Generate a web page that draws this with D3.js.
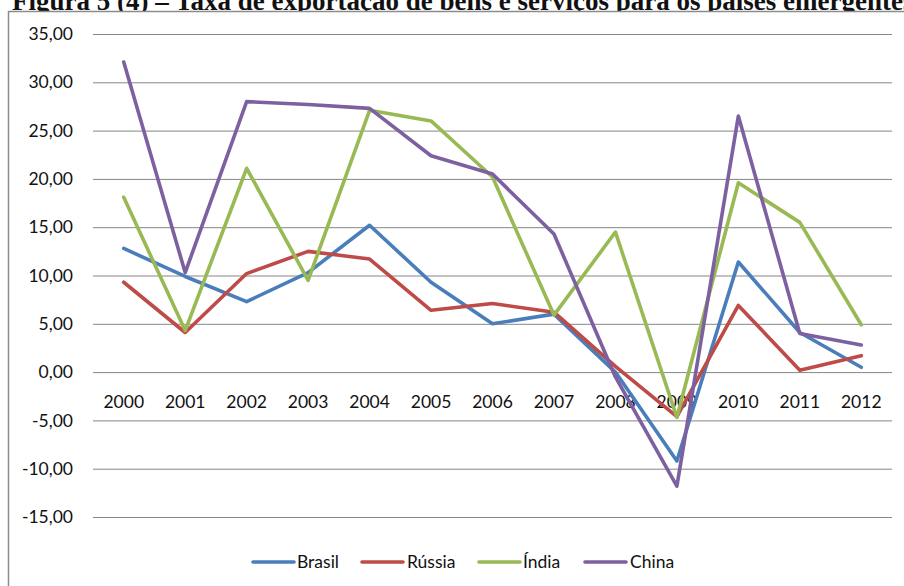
<!DOCTYPE html>
<html>
<head>
<meta charset="utf-8">
<script src="https://cdn.jsdelivr.net/npm/d3@7"></script>
<style>
  html, body { margin: 0; padding: 0; background: #fff; }
  svg { display: block; }
</style>
</head>
<body>
<svg id="chart" width="904" height="586"></svg>
<script>
// Taxa de exportação de bens e serviços (% a.a.), 2000–2012
const years = ["2000","2001","2002","2003","2004","2005","2006","2007","2008","2009","2010","2011","2012"];
const brasil = [12.8, 9.9, 7.3, 10.3, 15.2, 9.3, 5.0, 6.0, 0.0, -9.2, 11.4, 4.1, 0.5];
const russia = [9.3, 4.1, 10.2, 12.5, 11.7, 6.4, 7.1, 6.2, 0.6, -4.6, 6.9, 0.2, 1.7];
const india  = [18.1, 4.3, 21.1, 9.5, 27.1, 26.0, 20.2, 5.9, 14.5, -4.7, 19.6, 15.5, 4.9];
const china  = [32.1, 10.3, 28.0, 27.7, 27.3, 22.4, 20.5, 14.3, -0.5, -11.8, 26.5, 4.0, 2.8];
const yTicks = [-15, -10, -5, 0, 5, 10, 15, 20, 25, 30, 35];
const seriesNames = ["Brasil", "Rússia", "Índia", "China"];
const seriesColors = ["#4a7ebb", "#be4b48", "#98b954", "#7d60a0"];
const titleText = "Figura 5 (4) – Taxa de exportação de bens e serviços para os países emergentes";

const series = [brasil, russia, india, china].map((values, i) => ({
  name: seriesNames[i], color: seriesColors[i], values
}));

const svg = d3.select("#chart");
const font = "Lato, 'Open Sans', sans-serif";

// Title (bold serif, running off the top edge of the page)
svg.append("text")
  .attr("x", 12).attr("y", 10)
  .attr("font-family", "'Liberation Serif', 'Times New Roman', serif")
  .attr("font-weight", "bold")
  .attr("font-size", 27)
  .attr("fill", "#111")
  .text(titleText);

// Outer chart frame
svg.append("rect")
  .attr("x", 8.5).attr("y", 11.5)
  .attr("width", 910).attr("height", 600)
  .attr("fill", "#fff")
  .attr("stroke", "#8c8c8c")
  .attr("stroke-width", 1.5);

const plot = { left: 93, right: 892, top: 34, bottom: 517 };

const x = d3.scaleBand().domain(years).range([plot.left, plot.right]);
const y = d3.scaleLinear().domain([-15, 35]).range([plot.bottom, plot.top]);

// Horizontal gridlines + y labels (decimal comma, plain hyphen minus)
const yAxis = d3.axisLeft(y)
  .tickValues(yTicks)
  .tickSize(-(plot.right - plot.left))
  .tickPadding(20)
  .tickFormat(d => d.toFixed(2).replace(".", ","));

const gy = svg.append("g")
  .attr("transform", `translate(${plot.left},0)`)
  .call(yAxis);
gy.select(".domain").remove();
gy.selectAll(".tick line").attr("stroke", "#868686").attr("stroke-width", 1);
gy.selectAll(".tick text")
  .attr("font-family", font).attr("font-size", 17.5).attr("fill", "#111");

// Category labels sitting under the zero line
const xAxis = d3.axisBottom(x).tickSize(0).tickPadding(23);
const gx = svg.append("g")
  .attr("transform", `translate(0,${y(0)})`)
  .call(xAxis);
gx.select(".domain").remove();
gx.selectAll(".tick text")
  .attr("font-family", font).attr("font-size", 17.5).attr("fill", "#111");

// Series lines
const line = d3.line()
  .x((d, i) => x(years[i]) + x.bandwidth() / 2)
  .y(d => y(d));

svg.append("g").selectAll("path")
  .data(series)
  .join("path")
  .attr("d", d => line(d.values))
  .attr("fill", "none")
  .attr("stroke", d => d.color)
  .attr("stroke-width", 3.6)
  .attr("stroke-linejoin", "round")
  .attr("stroke-linecap", "round");

// Legend
const legendItems = [
  { mx: 253, tx: 297 },
  { mx: 362, tx: 407 },
  { mx: 479, tx: 523 },
  { mx: 585, tx: 630 }
];
const legendY = 562;
const lg = svg.append("g").selectAll("g")
  .data(series)
  .join("g");
lg.append("line")
  .attr("x1", (d, i) => legendItems[i].mx)
  .attr("x2", (d, i) => legendItems[i].mx + 41)
  .attr("y1", legendY).attr("y2", legendY)
  .attr("stroke", d => d.color)
  .attr("stroke-width", 3.6)
  .attr("stroke-linecap", "round");
lg.append("text")
  .attr("x", (d, i) => legendItems[i].tx)
  .attr("y", legendY)
  .attr("dy", "0.35em")
  .attr("font-family", font).attr("font-size", 17.5).attr("fill", "#111")
  .text(d => d.name);
</script>
</body>
</html>
